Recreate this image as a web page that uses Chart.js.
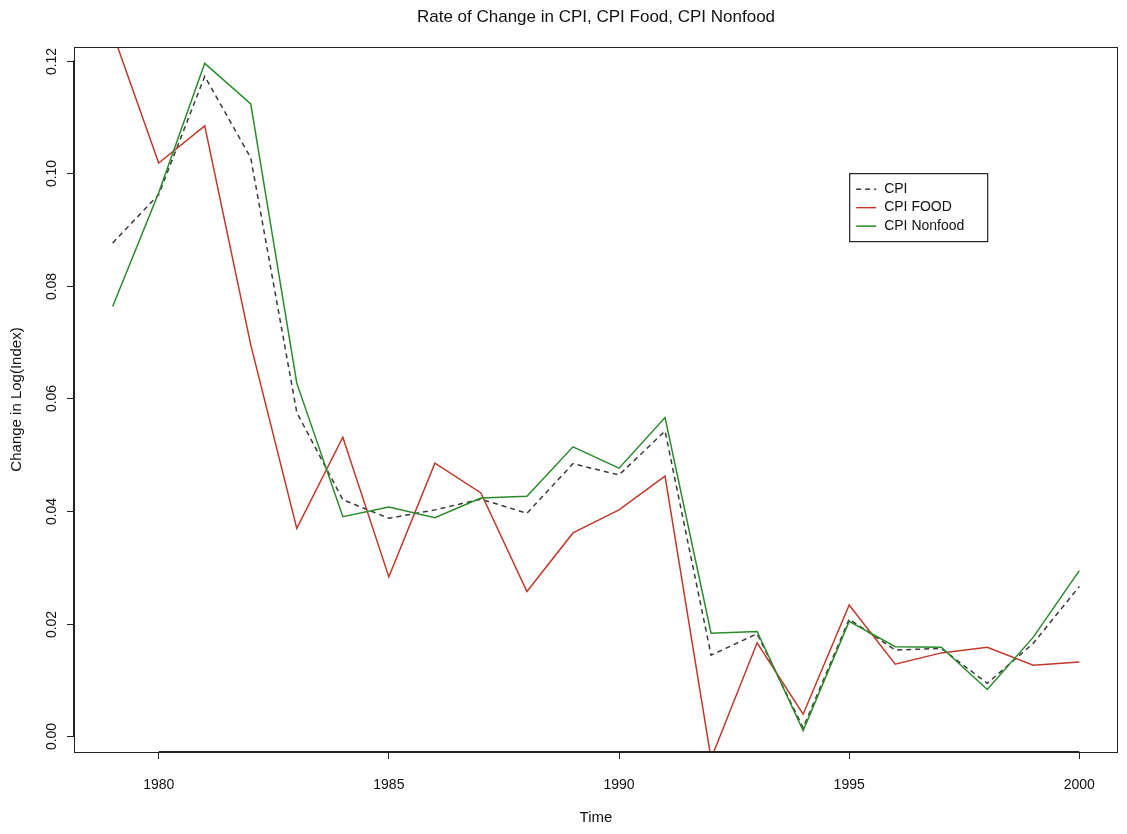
<!DOCTYPE html>
<html>
<head>
<meta charset="utf-8">
<script src="https://cdn.jsdelivr.net/npm/chart.js@4"></script>
<style>
  body { margin: 0; background: #fff; }
  #wrap { width: 1127px; height: 834px; position: relative; }
</style>
</head>
<body>
<div id="wrap"><canvas id="cpiChart"></canvas></div>
<script>
// Data
const years = [1979, 1980, 1981, 1982, 1983, 1984, 1985, 1986, 1987, 1988, 1989,
               1990, 1991, 1992, 1993, 1994, 1995, 1996, 1997, 1998, 1999, 2000];
const cpi = [0.0876, 0.0962, 0.1172, 0.1027, 0.0575, 0.0420, 0.0387, 0.0402, 0.0421, 0.0396, 0.0484,
             0.0464, 0.0542, 0.0144, 0.0182, 0.0015, 0.0208, 0.0153, 0.0156, 0.0094, 0.0165, 0.0266];
const cpiFood = [0.1249, 0.1018, 0.1084, 0.0695, 0.0369, 0.0531, 0.0283, 0.0485, 0.0432, 0.0257, 0.0361,
                 0.0402, 0.0462, -0.0040, 0.0166, 0.0039, 0.0233, 0.0128, 0.0148, 0.0158, 0.0126, 0.0132];
const cpiNonfood = [0.0763, 0.0965, 0.1195, 0.1123, 0.0627, 0.0390, 0.0407, 0.0388, 0.0423, 0.0426, 0.0514,
                    0.0476, 0.0566, 0.0183, 0.0186, 0.0010, 0.0204, 0.0159, 0.0158, 0.0083, 0.0176, 0.0294];
const xTicks = [1980, 1985, 1990, 1995, 2000];
const yTicks = [0.00, 0.02, 0.04, 0.06, 0.08, 0.10, 0.12];
const legendLabels = ['CPI', 'CPI FOOD', 'CPI Nonfood'];

const FONT = '"Liberation Sans", Arial, sans-serif';
const colCpi = '#3a3a3a';
const colFood = '#c0392b';
const colNonfood = '#2a8a2a';

function toPoints(vals) {
    return years.map((y, i) => ({ x: y, y: vals[i] }));
}

// Box, rotated y labels, titles and legend in R style
const rStyle = {
    id: 'rStyle',
    afterDraw(chart) {
        const ctx = chart.ctx;
        const a = chart.chartArea;
        const xs = chart.scales.x, ys = chart.scales.y;
        ctx.save();
        // plot box
        ctx.strokeStyle = '#222';
        ctx.lineWidth = 1;
        ctx.strokeRect(a.left + 0.5, a.top + 0.5, a.right - a.left - 1, a.bottom - a.top);

        // axis lines between first and last ticks
        ctx.lineWidth = 2;
        ctx.beginPath();
        ctx.moveTo(xs.getPixelForValue(xTicks[0]), a.bottom);
        ctx.lineTo(xs.getPixelForValue(xTicks[xTicks.length - 1]), a.bottom);
        ctx.moveTo(a.left, ys.getPixelForValue(yTicks[0]));
        ctx.lineTo(a.left, ys.getPixelForValue(yTicks[yTicks.length - 1]));
        ctx.stroke();

        // y tick marks and rotated labels
        ctx.lineWidth = 1;
        ctx.fillStyle = '#111';
        ctx.font = '14px ' + FONT;
        ctx.textAlign = 'center';
        ctx.textBaseline = 'middle';
        yTicks.forEach(v => {
            const py = Math.round(ys.getPixelForValue(v)) + 0.5;
            ctx.beginPath();
            ctx.moveTo(a.left - 7, py);
            ctx.lineTo(a.left, py);
            ctx.stroke();
            ctx.save();
            ctx.translate(a.left - 22, py);
            ctx.rotate(-Math.PI / 2);
            ctx.fillText(v.toFixed(2), 0, 0);
            ctx.restore();
        });

        // titles
        const cx = (a.left + a.right) / 2;
        ctx.font = '17px ' + FONT;
        ctx.fillText('Rate of Change in CPI, CPI Food, CPI Nonfood', cx, 17);
        ctx.font = '15px ' + FONT;
        ctx.fillText('Time', cx, 818);
        ctx.save();
        ctx.translate(17, (a.top + a.bottom) / 2);
        ctx.rotate(-Math.PI / 2);
        ctx.fillText('Change in Log(Index)', 0, 0);
        ctx.restore();

        // legend anchored at (1995, 0.10) in data units
        const lx = xs.getPixelForValue(1995);
        const ly = ys.getPixelForValue(0.10);
        const w = 138, h = 68;
        ctx.strokeStyle = '#222';
        ctx.lineWidth = 1.2;
        ctx.strokeRect(lx + 0.5, ly + 0.5, w, h);
        const styles = [
            { c: colCpi, d: [5, 4] },
            { c: colFood, d: [] },
            { c: colNonfood, d: [] }
        ];
        ctx.font = '14px ' + FONT;
        ctx.textAlign = 'left';
        legendLabels.forEach((lab, i) => {
            const yy = ly + 16 + i * 18.5;
            ctx.strokeStyle = styles[i].c;
            ctx.lineWidth = 1.5;
            ctx.setLineDash(styles[i].d);
            ctx.beginPath();
            ctx.moveTo(lx + 7, yy);
            ctx.lineTo(lx + 27, yy);
            ctx.stroke();
            ctx.setLineDash([]);
            ctx.fillStyle = '#111';
            ctx.fillText(lab, lx + 35, yy);
        });
        ctx.restore();
    }
};

new Chart(document.getElementById('cpiChart').getContext('2d'), {
    type: 'line',
    data: {
        datasets: [
            {
                label: 'CPI',
                data: toPoints(cpi),
                borderColor: colCpi,
                borderWidth: 1.5,
                borderDash: [5, 4],
                pointRadius: 0,
                tension: 0,
                clip: 0,
                order: 2
            },
            {
                label: 'CPI FOOD',
                data: toPoints(cpiFood),
                borderColor: colFood,
                borderWidth: 1.5,
                pointRadius: 0,
                tension: 0,
                clip: 0,
                order: 1
            },
            {
                label: 'CPI Nonfood',
                data: toPoints(cpiNonfood),
                borderColor: colNonfood,
                borderWidth: 1.5,
                pointRadius: 0,
                tension: 0,
                clip: 0,
                order: 0
            }
        ]
    },
    options: {
        responsive: true,
        maintainAspectRatio: false,
        animation: false,
        layout: { padding: { top: 47, right: 9, left: 0, bottom: 0 } },
        plugins: {
            legend: { display: false },
            tooltip: { enabled: false }
        },
        scales: {
            x: {
                type: 'linear',
                min: 1978.16,
                max: 2000.84,
                afterBuildTicks: scale => {
                    scale.ticks = xTicks.map(v => ({ value: v }));
                },
                afterFit: scale => { scale.height = 82; },
                grid: {
                    display: true,
                    drawOnChartArea: false,
                    drawTicks: true,
                    tickLength: 7,
                    color: '#222'
                },
                border: { display: false },
                ticks: {
                    color: '#111',
                    font: { family: FONT, size: 14 },
                    padding: 18,
                    maxRotation: 0,
                    callback: v => String(v)
                }
            },
            y: {
                min: -0.0028,
                max: 0.1224,
                afterFit: scale => { scale.width = 74; },
                grid: { display: false },
                border: { display: false },
                ticks: { display: false }
            }
        }
    },
    plugins: [rStyle]
});
</script>
</body>
</html>
